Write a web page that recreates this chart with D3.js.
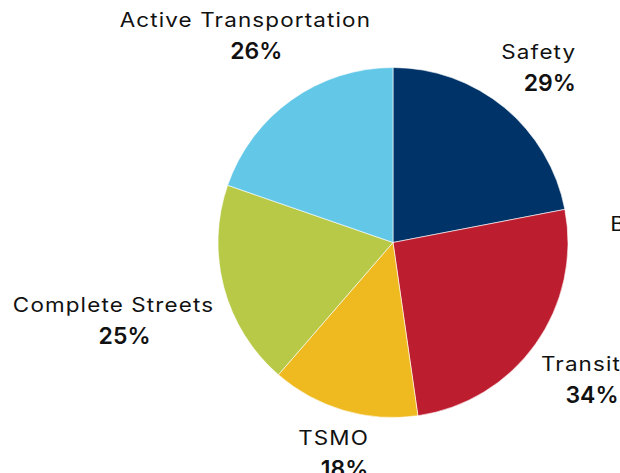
<!DOCTYPE html>
<html>
<head>
<meta charset="utf-8">
<script src="https://cdn.jsdelivr.net/npm/d3@7"></script>
<style>
  html, body { margin: 0; padding: 0; background: #fff; overflow: hidden; }
  svg { display: block; }
</style>
</head>
<body>
<div id="root"></div>
<script>
// slices, clockwise from 12 o'clock
const categories = ['Safety', 'Bridges', 'Transit', 'TSMO', 'Complete Streets', 'Active Transportation'];
const values = [29, 0, 34, 18, 25, 26];
const colors = ['#003468', '#7f7f7f', '#bd1e2f', '#efb920', '#b8c947', '#63c8e7'];

// label placement: distance from centre and small angle shift (degrees)
const labelRadius = [234, 262, 228, 211, 288, 261];
const labelShift = [-1, 8.5, -1, 0, 1, 1];

const width = 620;
const height = 473;
const cx = 393;
const cy = 242.5;
const radius = 175;

const data = categories.map((name, i) => ({ name, value: values[i], color: colors[i], i }));

const svg = d3.select('#root')
  .append('svg')
  .attr('width', width)
  .attr('height', height);

const g = svg.append('g').attr('transform', `translate(${cx} ${cy})`);

const pie = d3.pie().sort(null).value(d => d.value);
const arcs = pie(data);

const arc = d3.arc().innerRadius(0).outerRadius(radius);

g.selectAll('path.slice')
  .data(arcs.filter(d => d.data.value > 0))
  .enter()
  .append('path')
  .attr('class', 'slice')
  .attr('d', arc)
  .attr('fill', d => d.data.color)
  .attr('stroke', '#fff')
  .attr('stroke-width', 0.6);

const labels = g.selectAll('g.label')
  .data(arcs)
  .enter()
  .append('g')
  .attr('class', 'label')
  .attr('transform', d => {
    const a = (d.startAngle + d.endAngle) / 2 + labelShift[d.data.i] * Math.PI / 180;
    const r = labelRadius[d.data.i];
    return `translate(${r * Math.sin(a)} ${-r * Math.cos(a)})`;
  });

// the original face is a wide geometric sans, so stretch Inter a bit
labels.append('text')
  .attr('text-anchor', 'middle')
  .attr('transform', 'scale(1.15 1)')
  .attr('font-family', 'Inter, sans-serif')
  .attr('font-size', 19.5)
  .attr('letter-spacing', 1)
  .attr('fill', '#111')
  .text(d => d.data.name);

labels.append('text')
  .attr('text-anchor', 'middle')
  .attr('x', 11)
  .attr('y', 32)
  .attr('font-family', 'Inter, sans-serif')
  .attr('font-size', 23)
  .attr('font-weight', 600)
  .attr('fill', '#111')
  .text(d => `${d.data.value}%`);
</script>
</body>
</html>
